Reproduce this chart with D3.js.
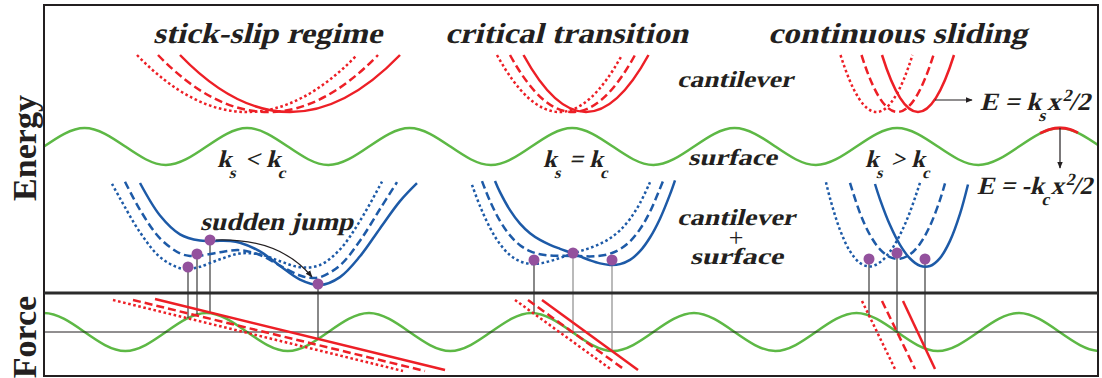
<!DOCTYPE html>
<html lang="en">
  <head>
    <meta charset="UTF-8" />
    <script src="https://d3js.org/d3.v7.min.js"></script>
    <title>Stick-slip vs continuous sliding</title>
    <style type="text/css">
      body {
        margin: 0;
        background: #fff;
      }
      text {
        font-family: 'Liberation Serif', 'Times New Roman', serif;
        fill: #231f20;
        font-weight: bold;
      }
      .title {
        font-size: 29px;
      }
      .note {
        font-size: 23px;
      }
      .axis-label {
        font-size: 34px;
      }
    </style>
  </head>
  <body>
    <svg width="1102" height="378"></svg>
    <script type="text/javascript">
      // x: tip position (lattice period = 1.625), E: energy, F: force (arbitrary units)

      // surface potential knots (quarter periods)
      const surfU = [0, 0.406, 0.813, 1.219, 1.625, 2.031, 2.438, 2.844, 3.25, 3.656, 4.063, 4.469, 4.875, 5.281,
        5.688, 6.094, 6.5, 6.906, 7.313, 7.719, 8.125, 8.531, 8.938, 9.344, 9.75, 10.156, 10.563];
      const surfE = [14.65, 16.5, 14.65, 12.8, 14.65, 16.5, 14.65, 12.8, 14.65, 16.5, 14.65, 12.8, 14.65, 16.5,
        14.65, 12.8, 14.65, 16.5, 14.65, 12.8, 14.65, 16.5, 14.65, 12.8, 14.65, 16.5, 14.65];
      const forceU = [-0.406, 0, 0.406, 0.813, 1.219, 1.625, 2.031, 2.438, 2.844, 3.25, 3.656, 4.063, 4.469, 4.875,
        5.281, 5.688, 6.094, 6.5, 6.906, 7.313, 7.719, 8.125, 8.531, 8.938, 9.344, 9.75, 10.156, 10.563, 10.969];
      const forceF = [0, 1.9, 0, -1.9, 0, 1.9, 0, -1.9, 0, 1.9, 0, -1.9, 0, 1.9, 0, -1.9, 0, 1.9, 0, -1.9, 0,
        1.9, 0, -1.9, 0, 1.9, 0, -1.9, 0];

      // red cap on the last surface maximum
      const capU = [9.96, 10.06, 10.16, 10.25, 10.34];
      const capE = [15.97, 16.37, 16.5, 16.39, 16.03];

      // cantilever parabolas: centers per regime (dotted, dashed, solid)
      const cantCenters = [
        [2.03, 2.24, 2.46],
        [5.155, 5.285, 5.42],
        [8.325, 8.535, 8.74],
      ];
      const cantHalfWidth = [1.1, 0.625, 0.36];
      const cantMinE = 18.1;
      const cantTopE = 23.8;

      // cantilever + surface curves
      const stickDotted = [[0.68, 10.92], [0.76, 9.47], [0.96, 6.07], [1.16, 3.59], [1.36, 2.48], [1.46, 2.42],
        [1.56, 2.62], [1.76, 3.37], [1.96, 3.95], [2.16, 3.86], [2.36, 3.18], [2.56, 2.58], [2.76, 2.8],
        [2.96, 4.36], [3.16, 7.21], [3.38, 11.14]];
      const stickDashed = [[0.81, 11.13], [0.96, 8.32], [1.16, 5.46], [1.36, 3.96], [1.46, 3.71], [1.56, 3.72],
        [1.76, 4.08], [1.96, 4.28], [2.16, 3.8], [2.36, 2.73], [2.56, 1.75], [2.66, 1.52], [2.76, 1.58],
        [2.96, 2.76], [3.16, 5.23], [3.36, 8.4], [3.53, 11.08]];
      const stickSolid = [[0.96, 11.0], [1.16, 7.75], [1.36, 5.87], [1.56, 5.24], [1.66, 5.2], [1.76, 5.22],
        [1.86, 5.2], [1.96, 5.03], [2.16, 4.16], [2.36, 2.71], [2.56, 1.34], [2.76, 0.79], [2.96, 1.59],
        [3.16, 3.67], [3.36, 6.46], [3.56, 9.19], [3.73, 10.99]];

      const critDotted = [[4.28, 10.82], [4.36, 8.69], [4.46, 6.52], [4.56, 4.89], [4.66, 3.79], [4.76, 3.17],
        [4.86, 2.92], [4.96, 2.96], [5.06, 3.19], [5.16, 3.51], [5.26, 3.85], [5.36, 4.18], [5.46, 4.51],
        [5.56, 4.91], [5.66, 5.47], [5.76, 6.27], [5.86, 7.41], [5.96, 8.99], [6.06, 11.07]];
      const critDashed = [[4.38, 11.19], [4.46, 9.19], [4.56, 7.21], [4.66, 5.76], [4.76, 4.78], [4.86, 4.19],
        [4.96, 3.88], [5.06, 3.75], [5.16, 3.72], [5.26, 3.71], [5.36, 3.69], [5.46, 3.66], [5.56, 3.72],
        [5.66, 3.93], [5.76, 4.38], [5.86, 5.16], [5.96, 6.39], [6.06, 8.13], [6.19, 11.19]];
      const critSolid = [[4.51, 11.21], [4.56, 10.09], [4.66, 8.29], [4.76, 6.94], [4.86, 5.98], [4.96, 5.31],
        [5.06, 4.82], [5.16, 4.42], [5.26, 4.05], [5.36, 3.66], [5.46, 3.27], [5.56, 2.96], [5.66, 2.81],
        [5.76, 2.89], [5.86, 3.31], [5.96, 4.18], [6.06, 5.55], [6.16, 7.43], [6.26, 9.86], [6.31, 11.27]];

      const slideDotted = [[7.82, 11.07], [7.86, 9.48], [7.96, 6.31], [8.06, 4.18], [8.16, 3.0], [8.26, 2.66],
        [8.36, 3.07], [8.46, 4.14], [8.56, 5.82], [8.66, 8.11], [8.76, 11.03]];
      const slideDashed = [[8.06, 11.02], [8.16, 7.99], [8.26, 5.8], [8.36, 4.37], [8.46, 3.59], [8.56, 3.42],
        [8.66, 3.86], [8.76, 4.93], [8.86, 6.72], [8.96, 9.31], [9.01, 10.96]];
      const slideSolid = [[8.31, 10.9], [8.36, 9.37], [8.46, 6.79], [8.56, 4.81], [8.66, 3.45], [8.76, 2.72],
        [8.86, 2.7], [8.96, 3.49], [9.06, 5.21], [9.16, 7.91], [9.24, 10.85]];

      const blueCurves = [
        [stickDotted, stickDashed, stickSolid],
        [critDotted, critDashed, critSolid],
        [slideDotted, slideDashed, slideSolid],
      ];

      // cantilever force lines [u1, F1, u2, F2] (dotted, dashed, solid)
      const stickForce = [[0.69, 3.2, 3.59, -3.9], [0.89, 3.2, 3.81, -3.9], [1.11, 3.3, 4.01, -3.8]];
      const critForce = [[4.71, 3.2, 5.68, -3.8], [4.84, 3.2, 5.81, -3.8], [4.98, 3.2, 5.94, -3.8]];
      const slideForce = [[8.18, 3.1, 8.51, -3.7], [8.38, 3.1, 8.71, -3.7], [8.59, 3.1, 8.91, -3.7]];
      const forceLines = [stickForce, critForce, slideForce];

      // tip positions (purple dots) and matching force points
      const dotU = [1.44, 1.53, 1.66, 2.74, 4.9, 5.29, 5.68, 8.25, 8.53, 8.81];
      const dotE = [2.6, 3.9, 5.3, 0.9, 3.3, 4.0, 3.3, 3.4, 4.0, 3.4];
      const dotF = [1.4, 1.6, 1.9, -0.8, 1.9, 0, -1.8, 1.7, 0, -1.6];
      const dropGray = [false, false, false, false, false, true, true, false, false, false];

      const styles = ['dotted', 'dashed', 'solid'];
      const dashes = { dotted: '2.6 2.6', dashed: '8 4', solid: null };

      const red = '#ed1f26';
      const blue = '#1d5aa7';
      const green = '#5db845';
      const purple = '#93519d';
      const ink = '#231f20';

      // ---

      const svg = d3.select('svg');
      const frame = { left: 44, right: 1098, top: 5, mid: 293, bottom: 376 };

      const x = d3.scaleLinear().domain([0, 10.54]).range([frame.left, frame.right]);
      const yE = d3.scaleLinear().domain([0, 28.8]).range([frame.mid, frame.top]);
      const yF = d3.scaleLinear().domain([-4.4, 3.9]).range([frame.bottom, frame.mid]);

      const defs = svg.append('defs');
      defs.append('clipPath').attr('id', 'clip-e').append('rect')
        .attr('x', frame.left).attr('y', frame.top)
        .attr('width', frame.right - frame.left).attr('height', frame.mid - frame.top);
      defs.append('clipPath').attr('id', 'clip-f').append('rect')
        .attr('x', frame.left).attr('y', frame.mid)
        .attr('width', frame.right - frame.left).attr('height', frame.bottom - frame.mid);
      defs.append('marker')
        .attr('id', 'arrow')
        .attr('viewBox', '0 0 10 10')
        .attr('refX', 9).attr('refY', 5)
        .attr('markerWidth', 6).attr('markerHeight', 6)
        .attr('orient', 'auto')
        .append('path').attr('d', 'M0,1L10,5L0,9Z').attr('fill', ink);

      const lineE = d3.line().x((d) => x(d[0])).y((d) => yE(d[1])).curve(d3.curveNatural);

      // surface energy
      const gE = svg.append('g').attr('clip-path', 'url(#clip-e)');
      gE.append('path')
        .datum(d3.zip(surfU, surfE))
        .attr('d', lineE)
        .attr('fill', 'none').attr('stroke', green).attr('stroke-width', 2.5);
      gE.append('path')
        .datum(d3.zip(capU, capE))
        .attr('d', lineE)
        .attr('fill', 'none').attr('stroke', red).attr('stroke-width', 2.8);

      // surface force
      const gF = svg.append('g').attr('clip-path', 'url(#clip-f)');
      gF.append('path')
        .datum(d3.zip(forceU, forceF))
        .attr('d', d3.line().x((d) => x(d[0])).y((d) => yF(d[1])).curve(d3.curveNatural))
        .attr('fill', 'none').attr('stroke', green).attr('stroke-width', 2.5);
      gF.append('line')
        .attr('x1', x(0)).attr('x2', x(10.54))
        .attr('y1', yF(0)).attr('y2', yF(0))
        .attr('stroke', ink).attr('stroke-width', 1);

      // drop lines from tip to force
      svg.append('g')
        .selectAll('line')
        .data(dotU.map((u, i) => ({ u, e: dotE[i], f: dotF[i], gray: dropGray[i] })))
        .join('line')
        .attr('x1', (d) => x(d.u)).attr('x2', (d) => x(d.u))
        .attr('y1', (d) => yE(d.e)).attr('y2', (d) => yF(d.f))
        .attr('stroke', (d) => (d.gray ? '#8c8c8c' : '#3a3a3a'))
        .attr('stroke-width', 1.2);

      // cantilever parabolas (quadratic bezier = exact parabola)
      const gCant = svg.append('g');
      cantCenters.forEach((centers, r) => {
        const w = cantHalfWidth[r];
        centers.forEach((c, i) => {
          const p = d3.path();
          p.moveTo(x(c - w), yE(cantTopE));
          p.quadraticCurveTo(x(c), yE(2 * cantMinE - cantTopE), x(c + w), yE(cantTopE));
          gCant.append('path')
            .attr('d', p.toString())
            .attr('fill', 'none').attr('stroke', red).attr('stroke-width', 2.5)
            .attr('stroke-dasharray', dashes[styles[i]]);
        });
      });

      // cantilever + surface
      const blueLine = d3.line().x((d) => x(d[0])).y((d) => yE(d[1])).curve(d3.curveCatmullRom.alpha(0.5));
      const gBlue = svg.append('g');
      blueCurves.forEach((set) => {
        set.forEach((pts, i) => {
          gBlue.append('path')
            .datum(pts)
            .attr('d', blueLine)
            .attr('fill', 'none').attr('stroke', blue).attr('stroke-width', 2.5)
            .attr('stroke-dasharray', dashes[styles[i]]);
        });
      });

      // cantilever force lines
      const gFL = svg.append('g');
      forceLines.forEach((set) => {
        set.forEach((l, i) => {
          gFL.append('line')
            .attr('x1', x(l[0])).attr('y1', yF(l[1]))
            .attr('x2', x(l[2])).attr('y2', yF(l[3]))
            .attr('stroke', red).attr('stroke-width', 2.5)
            .attr('stroke-dasharray', dashes[styles[i]]);
        });
      });

      // tip dots
      svg.append('g')
        .selectAll('circle')
        .data(d3.zip(dotU, dotE))
        .join('circle')
        .attr('cx', (d) => x(d[0])).attr('cy', (d) => yE(d[1]))
        .attr('r', 5.5)
        .attr('fill', purple);

      // arrows
      const jump = d3.path();
      jump.moveTo(x(1.72), yE(5.3));
      jump.quadraticCurveTo(x(2.36), yE(5.5), x(2.68), yE(1.6));
      const gArr = svg.append('g').attr('fill', 'none').attr('stroke', ink).attr('stroke-width', 1.2);
      gArr.append('path').attr('d', jump.toString()).attr('marker-end', 'url(#arrow)');
      gArr.append('line')
        .attr('x1', x(8.91)).attr('y1', yE(19.3)).attr('x2', x(9.28)).attr('y2', yE(19.3))
        .attr('marker-end', 'url(#arrow)');
      gArr.append('line')
        .attr('x1', x(10.16)).attr('y1', yE(16.5)).attr('x2', x(10.16)).attr('y2', yE(12.5))
        .attr('marker-end', 'url(#arrow)');

      // frame
      svg.append('rect')
        .attr('x', frame.left).attr('y', frame.top)
        .attr('width', frame.right - frame.left).attr('height', frame.bottom - frame.top)
        .attr('fill', 'none').attr('stroke', ink).attr('stroke-width', 2);
      svg.append('line')
        .attr('x1', frame.left).attr('x2', frame.right)
        .attr('y1', frame.mid).attr('y2', frame.mid)
        .attr('stroke', '#2b2b2b').attr('stroke-width', 3);

      // labels
      svg.append('text').attr('class', 'axis-label')
        .attr('text-anchor', 'middle')
        .attr('transform', 'translate(36,148) rotate(-90)')
        .text('Energy');
      svg.append('text').attr('class', 'axis-label')
        .attr('text-anchor', 'middle')
        .attr('transform', 'translate(36,337) rotate(-90)')
        .text('Force');

      // bold serif, slanted by a skew so the serif face is kept
      const slant = 'skewX(-14)';
      function label(px, py, cls, txt, len, size) {
        const t = svg.append('text').attr('class', cls)
          .attr('transform', `translate(${px},${py}) ${slant}`)
          .style('font-size', size ? size + 'px' : null)
          .text(txt);
        if (len) t.attr('textLength', len).attr('lengthAdjust', 'spacingAndGlyphs');
        return t;
      }

      label(153, 43, 'title', 'stick-slip regime', 229);
      label(445, 43, 'title', 'critical transition', 243);
      label(768, 43, 'title', 'continuous sliding', 259);

      label(677, 87, 'note', 'cantilever', 116);
      label(688, 165, 'note', 'surface', 89);
      label(677, 225, 'note', 'cantilever', 118);
      label(690, 264, 'note', 'surface', 93);
      label(200, 230, 'note', 'sudden jump', 153, 25);
      svg.append('text').attr('class', 'note')
        .attr('x', 736).attr('y', 246).attr('text-anchor', 'middle')
        .style('font-size', '26px').style('font-weight', 'normal')
        .text('+');

      // text with sub/superscripts
      function richText(px, py, size, parts, len) {
        const t = label(px, py, 'note', null, len, size);
        let shift = 0;
        parts.forEach((p) => {
          const target = p.sub ? size * 0.45 : p.sup ? -size * 0.38 : 0;
          t.append('tspan')
            .attr('dy', target - shift)
            .attr('dx', p.dx || 0)
            .style('font-size', p.sub || p.sup ? Math.round(size * 0.66) + 'px' : null)
            .text(p.t);
          shift = target;
        });
        return t;
      }

      richText(217, 167, 24, [{ t: 'k' }, { t: 's', sub: true }, { t: ' < k' }, { t: 'c', sub: true }], 71);
      richText(543, 167, 24, [{ t: 'k' }, { t: 's', sub: true }, { t: ' = k' }, { t: 'c', sub: true }], 67);
      richText(865, 167, 24, [{ t: 'k' }, { t: 's', sub: true }, { t: ' > k' }, { t: 'c', sub: true }], 67);

      richText(980, 110, 25, [{ t: 'E = k' }, { t: 's', sub: true }, { t: 'x', dx: -1 }, { t: '2', sup: true }, { t: '/2' }], 110);
      richText(977, 194, 25, [{ t: 'E = -k' }, { t: 'c', sub: true }, { t: 'x', dx: -1 }, { t: '2', sup: true }, { t: '/2' }], 115);
    </script>
  </body>
</html>
